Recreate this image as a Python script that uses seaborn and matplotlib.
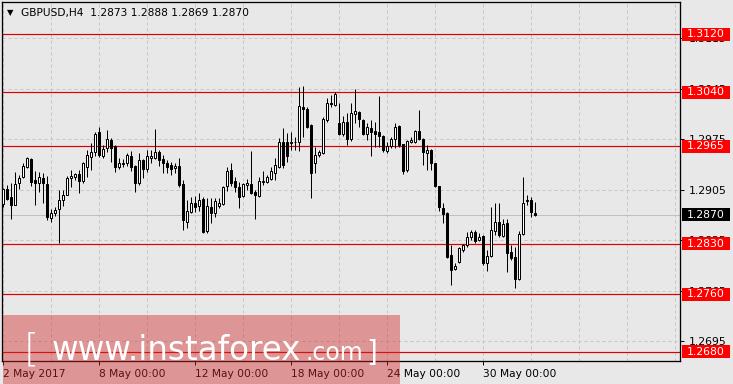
import numpy as np
import matplotlib
matplotlib.use("Agg")
import matplotlib.pyplot as plt
import matplotlib.transforms as mtransforms
from matplotlib.patches import Rectangle
import seaborn as sns

# ---------------- data ----------------
opens = [1.2885,1.2906,1.2895,1.2884,1.2914,1.2922,1.2936,1.2947,1.2918,1.2914,
         1.2921,1.2912,1.2866,1.2873,1.2878,1.2891,1.2898,1.2921,1.2922,1.2927,
         1.2917,1.2936,1.2950,1.2957,1.2985,1.2951,1.2962,1.2974,1.2965,1.2936,
         1.2941,1.2942,1.2951,1.2938,1.2914,1.2946,1.2934,1.2949,1.2949,1.2957,
         1.2947,1.2942,1.2939,1.2935,1.2938,1.2912,1.2860,1.2874,1.2886,1.2882,
         1.2892,1.2848,1.2881,1.2873,1.2882,1.2885,1.2910,1.2932,1.2917,1.2909,
         1.2896,1.2911,1.2912,1.2901,1.2896,1.2916,1.2916,1.2920,1.2928,1.2936,
         1.2971,1.2971,1.2970,1.2971,1.2971,1.3019,1.3017,1.2994,1.2942,1.2953,
         1.2956,1.3001,1.3025,1.3022,1.2997,1.2982,1.2999,1.2975,1.3010,1.3012,
         1.3001,1.2982,1.2990,1.2986,1.2985,1.2979,1.2958,1.2965,1.2975,1.2993,
         1.2968,1.2932,1.2971,1.2971,1.2986,1.2975,1.2956,1.2960,1.2942,1.2910,
         1.2880,1.2873,1.2814,1.2795,1.2805,1.2821,1.2828,1.2839,1.2846,1.2835,
         1.2841,1.2803,1.2813,1.2847,1.2860,1.2841,1.2859,1.2819,1.2812,1.2781,
         1.2844,1.2889,1.2890,1.2873]
highs = [1.2907,1.2911,1.2914,1.2929,1.2925,1.2942,1.2950,1.2949,1.2931,1.2929,
         1.2928,1.2924,1.2878,1.2881,1.2904,1.2904,1.2924,1.2932,1.2928,1.2932,
         1.2943,1.2960,1.2970,1.2985,1.2992,1.2967,1.2988,1.2976,1.2967,1.2949,
         1.2947,1.2955,1.2958,1.2939,1.2955,1.2947,1.2960,1.2960,1.2989,1.2960,
         1.2953,1.2946,1.2943,1.2942,1.2949,1.2918,1.2891,1.2895,1.2896,1.2900,
         1.2895,1.2893,1.2893,1.2893,1.2893,1.2910,1.2936,1.2942,1.2922,1.2915,
         1.2914,1.2920,1.2958,1.2904,1.2922,1.2931,1.2925,1.2936,1.2949,1.2976,
         1.2990,1.2983,1.2985,1.2978,1.3047,1.3048,1.3019,1.2996,1.2964,1.2960,
         1.3006,1.3032,1.3036,1.3040,1.3025,1.3007,1.3011,1.3025,1.3044,1.3014,
         1.3003,1.2997,1.3001,1.2999,1.3035,1.2981,1.2971,1.2978,1.2997,1.2994,
         1.2968,1.2974,1.2978,1.2988,1.3015,1.2976,1.2967,1.2961,1.2942,1.2910,
         1.2886,1.2874,1.2828,1.2803,1.2825,1.2829,1.2846,1.2849,1.2849,1.2845,
         1.2842,1.2821,1.2881,1.2886,1.2887,1.2864,1.2864,1.2828,1.2825,1.2847,
         1.2922,1.2898,1.2895,1.2888]
lows = [1.2881,1.2891,1.2864,1.2883,1.2906,1.2921,1.2935,1.2910,1.2884,1.2902,
        1.2886,1.2863,1.2860,1.2869,1.2831,1.2882,1.2897,1.2909,1.2918,1.2900,
        1.2914,1.2922,1.2932,1.2951,1.2950,1.2949,1.2957,1.2943,1.2929,1.2934,
        1.2936,1.2938,1.2931,1.2902,1.2911,1.2921,1.2929,1.2942,1.2947,1.2938,
        1.2928,1.2928,1.2925,1.2928,1.2909,1.2849,1.2852,1.2873,1.2874,1.2875,
        1.2845,1.2845,1.2858,1.2867,1.2879,1.2884,1.2903,1.2910,1.2902,1.2879,
        1.2895,1.2904,1.2899,1.2864,1.2895,1.2911,1.2914,1.2918,1.2918,1.2935,
        1.2935,1.2943,1.2960,1.2960,1.2958,1.2978,1.2990,1.2893,1.2928,1.2950,
        1.2954,1.2998,1.3019,1.3021,1.2981,1.2979,1.2967,1.2972,1.2997,1.2992,
        1.2981,1.2974,1.2951,1.2964,1.2964,1.2957,1.2955,1.2962,1.2962,1.2964,
        1.2927,1.2929,1.2970,1.2970,1.2974,1.2939,1.2932,1.2932,1.2909,1.2875,
        1.2858,1.2810,1.2773,1.2793,1.2803,1.2818,1.2825,1.2835,1.2831,1.2834,
        1.2801,1.2792,1.2812,1.2842,1.2839,1.2839,1.2791,1.2807,1.2768,1.2780,
        1.2842,1.2884,1.2867,1.2869]
closes = [1.2906,1.2892,1.2884,1.2912,1.2921,1.2938,1.2949,1.2915,1.2914,1.2922,
          1.2914,1.2867,1.2873,1.2877,1.2891,1.2898,1.2921,1.2924,1.2927,1.2917,
          1.2942,1.2953,1.2957,1.2982,1.2953,1.2961,1.2975,1.2962,1.2936,1.2942,
          1.2942,1.2953,1.2936,1.2914,1.2946,1.2934,1.2951,1.2951,1.2957,1.2946,
          1.2942,1.2936,1.2934,1.2938,1.2911,1.2863,1.2875,1.2886,1.2881,1.2891,
          1.2846,1.2882,1.2873,1.2889,1.2886,1.2909,1.2931,1.2914,1.2909,1.2895,
          1.2912,1.2914,1.2900,1.2897,1.2917,1.2917,1.2922,1.2931,1.2939,1.2971,
          1.2939,1.2951,1.2971,1.2971,1.3021,1.3017,1.2992,1.2928,1.2953,1.2957,
          1.3003,1.3025,1.3023,1.3037,1.2982,1.2999,1.2975,1.3011,1.3014,1.3003,
          1.2982,1.2992,1.2985,1.2982,1.2979,1.2960,1.2965,1.2975,1.2992,1.2967,
          1.2931,1.2972,1.2974,1.2986,1.2975,1.2957,1.2960,1.2942,1.2910,1.2881,
          1.2871,1.2812,1.2793,1.2799,1.2824,1.2828,1.2839,1.2846,1.2834,1.2839,
          1.2803,1.2813,1.2849,1.2860,1.2842,1.2857,1.2817,1.2810,1.2781,1.2844,
          1.2887,1.2890,1.2874,1.2870]

levels = [1.3120, 1.3040, 1.2965, 1.2830, 1.2760, 1.2680]
level_labels = ["1.3120", "1.3040", "1.2965", "1.2830", "1.2760", "1.2680"]
current_price = 1.2870
current_label = "1.2870"
price_ticks = [1.3115, 1.3045, 1.2975, 1.2905, 1.2835, 1.2765, 1.2695]
price_tick_labels = ["1.3115", "1.3045", "1.2975", "1.2905", "1.2835", "1.2765", "1.2695"]
date_tick_bars = [0, 24, 48, 72, 96, 120]
date_tick_labels = ["2 May 2017", "8 May 00:00", "12 May 00:00", "18 May 00:00",
                    "24 May 00:00", "30 May 00:00"]
title_text = "GBPUSD,H4  1.2873 1.2888 1.2869 1.2870"

# ---------------- style ----------------
sns.set_theme(style="white")
plt.rcParams['font.family'] = ['DejaVu Sans']
BG = "#e8e8e8"
W, H = 733, 384
fig = plt.figure(figsize=(W / 100, H / 100), dpi=100, facecolor=BG)
ax = fig.add_axes([2 / W, 1 - 361 / H, 678 / W, 359 / H])
ax.set_facecolor(BG)

o = np.array(opens); h = np.array(highs); l = np.array(lows); c = np.array(closes)
x = np.arange(len(o))
PX = 0.72  # one pixel in points

# grid
for gx in np.arange(0, 170, 12):
    ax.axvline(gx, color="#c4c4c4", lw=PX, ls=(0, (3, 3)), zorder=1)
for gy in price_ticks:
    ax.axhline(gy, color="#c4c4c4", lw=PX, ls=(0, (3, 3)), zorder=1)

# current price line
ax.axhline(current_price, color="#c0c0c0", lw=PX, zorder=1.5)
# level lines
for lv in levels:
    ax.axhline(lv, color="#e00000", lw=PX * 1.2, zorder=2)

# candles
ax.vlines(x, l, h, color="black", lw=PX, zorder=3)
bull = c >= o
bottom = np.minimum(o, c)
height = np.maximum(np.abs(c - o), 0.00002)
ax.bar(x[bull], height[bull], bottom=bottom[bull], width=0.5, color="white",
       edgecolor="black", linewidth=PX, zorder=4)
ax.bar(x[~bull], height[~bull], bottom=bottom[~bull], width=0.5, color="black",
       edgecolor="black", linewidth=PX, zorder=4)

ax.set_xlim(-0.325, 169.175)
ax.set_ylim(1.26674, 1.31649)

for s in ax.spines.values():
    s.set_color("black"); s.set_linewidth(PX * 1.3)

ax.yaxis.tick_right()
ax.set_yticks(price_ticks)
ax.set_yticklabels(price_tick_labels)
ax.set_xticks(date_tick_bars)
ax.set_xticklabels(date_tick_labels, ha="left")
ax.tick_params(axis="y", direction="out", length=3, width=PX, color="black",
               labelsize=7.8, pad=3, labelcolor="black", right=True, left=False)
ax.tick_params(axis="x", direction="out", length=3, width=PX, color="black",
               labelsize=7.7, pad=3, labelcolor="black", bottom=True)

# right-side price boxes
tr = mtransforms.blended_transform_factory(fig.transFigure, ax.transData)
bh = 13 * (1.31649 - 1.26674) / 359
for lv, lab in zip(levels, level_labels):
    ax.add_patch(Rectangle((682 / W, lv - bh / 2), 48 / W, bh, transform=tr,
                           facecolor="#ff0000", edgecolor="none", clip_on=False, zorder=6))
    ax.text(706 / W, lv, lab, transform=tr, color="white", fontsize=7.8,
            ha="center", va="center", clip_on=False, zorder=7)
ax.add_patch(Rectangle((682 / W, current_price - bh / 2), 48 / W, bh, transform=tr,
                       facecolor="black", edgecolor="none", clip_on=False, zorder=6))
ax.text(706 / W, current_price, current_label, transform=tr, color="white",
        fontsize=7.8, ha="center", va="center", clip_on=False, zorder=7)

# title
fig.text(7 / W, 1 - 13 / H, "\u25BC", fontsize=6, color="black", va="center", ha="left")
fig.text(21 / W, 1 - 13 / H, title_text, fontsize=7.7, color="black", va="center", ha="left")

# watermark
fig.add_artist(Rectangle((3 / W, 0), 397 / W, 69 / H, transform=fig.transFigure,
                         facecolor=(211 / 255, 40 / 255, 40 / 255), alpha=0.43,
                         edgecolor="none", zorder=10))
fig.text(24 / W, 1 - 361 / H, "[", fontsize=28, color="white", ha="left",
         va="baseline", zorder=11, fontweight="light")
fig.text(52 / W, 1 - 360 / H, "www.instaforex", fontsize=23.5, color="white",
         ha="left", va="baseline", zorder=11)
fig.text(305 / W, 1 - 360 / H, ".com", fontsize=17, color="white",
         ha="left", va="baseline", zorder=11)
fig.text(366 / W, 1 - 361 / H, "]", fontsize=20, color="white", ha="left",
         va="baseline", zorder=11)

fig.savefig("out.png", dpi=100, facecolor=BG)
